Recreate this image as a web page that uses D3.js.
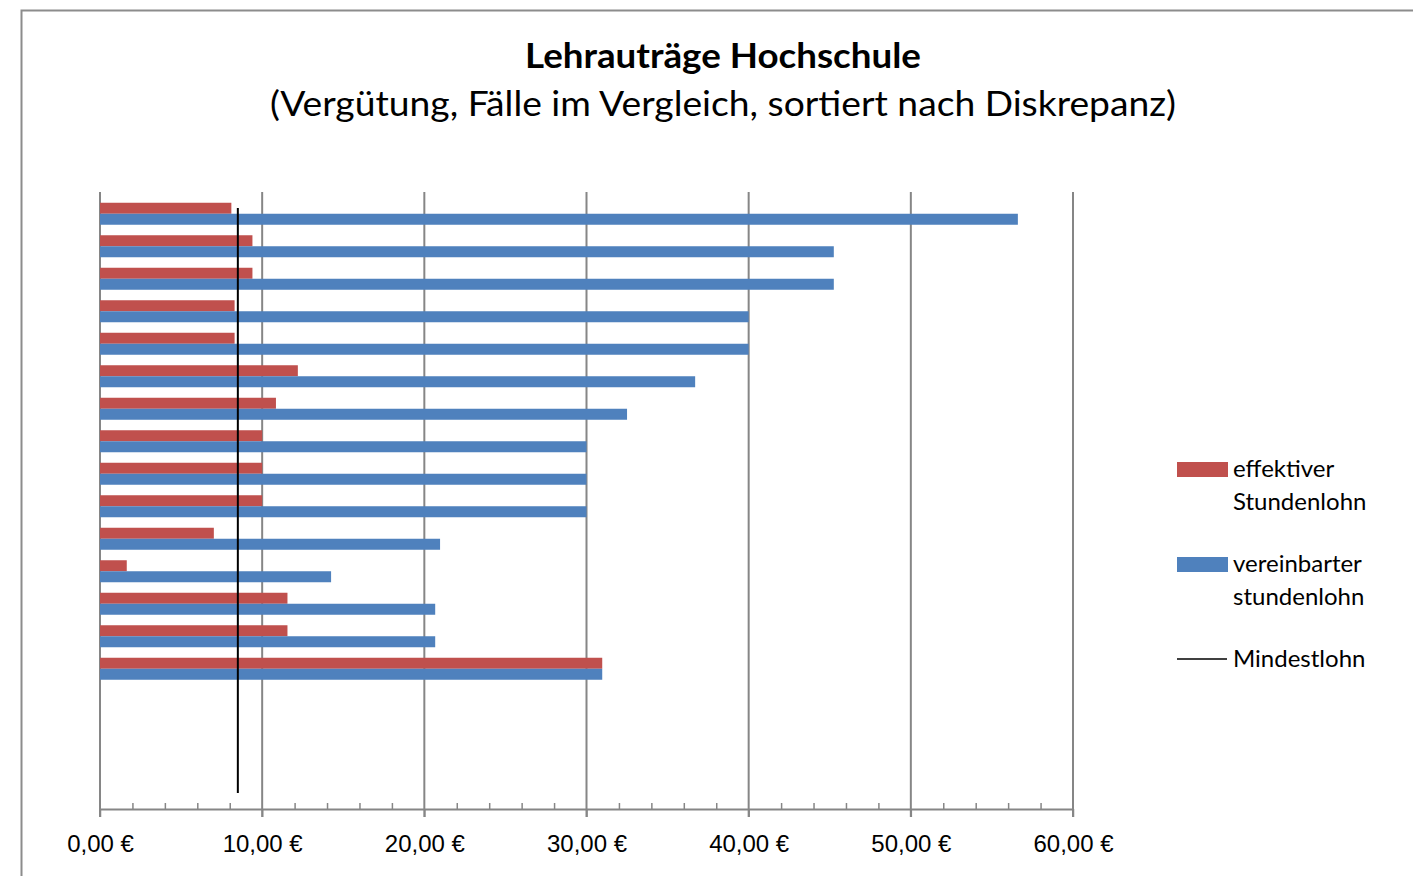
<!DOCTYPE html>
<html>
<head>
<meta charset="utf-8">
<script src="https://cdn.jsdelivr.net/npm/d3@7"></script>
<style>
	body { margin: 0; background: #fff; }
	svg { display: block; font-family: Lato, 'Open Sans', sans-serif; }
</style>
</head>
<body>
<div class="canvas"></div>
<script>
// Daten
const faelle = ['Fall 1', 'Fall 2', 'Fall 3', 'Fall 4', 'Fall 5', 'Fall 6', 'Fall 7', 'Fall 8', 'Fall 9', 'Fall 10',
	'Fall 11', 'Fall 12', 'Fall 13', 'Fall 14', 'Fall 15', 'Fall 16', 'Fall 17', 'Fall 18', 'Fall 19'];
const effektiverLohn = [8.10, 9.40, 9.40, 8.30, 8.30, 12.20, 10.85, 10.00, 10.00, 10.00, 7.02, 1.65, 11.56, 11.56, 30.97];
const vereinbarterLohn = [56.60, 45.25, 45.25, 40.00, 40.00, 36.70, 32.50, 30.00, 30.00, 30.00, 20.97, 14.25, 20.67, 20.67, 30.97];
const mindestlohn = 8.50;
const mindestlohnY = [0.026, 0.974];
const xTicks = [0, 10, 20, 30, 40, 50, 60];
const serien = ['effektiver Stundenlohn', 'vereinbarter stundenlohn'];
const legendeTexte = [['effektiver', 'Stundenlohn'], ['vereinbarter', 'stundenlohn'], ['Mindestlohn']];

const farben = { rot: '#C0504D', blau: '#4F81BD', grau: '#868686' };

const svg = d3
	.select('.canvas')
	.append('svg')
	.attr('width', 1413)
	.attr('height', 876);

// Rahmen des Diagramms
svg.append('rect')
	.attr('x', 21.5)
	.attr('y', 10.5)
	.attr('width', 1410)
	.attr('height', 880)
	.attr('fill', 'none')
	.attr('stroke', '#8c8c8c')
	.attr('stroke-width', 2);

// Titel
svg.append('text')
	.attr('x', 723)
	.attr('y', 68)
	.attr('text-anchor', 'middle')
	.attr('font-size', 34)
	.attr('font-weight', 'bold')
	.attr('textLength', 396)
	.attr('lengthAdjust', 'spacingAndGlyphs')
	.text('Lehrauträge Hochschule');

svg.append('text')
	.attr('x', 723)
	.attr('y', 116)
	.attr('text-anchor', 'middle')
	.attr('font-size', 34)
	.attr('textLength', 906)
	.attr('lengthAdjust', 'spacingAndGlyphs')
	.text('(Vergütung, Fälle im Vergleich, sortiert nach Diskrepanz)');

// Skalen
const plotTop = 192;
const plotBottom = 809;

const x = d3.scaleLinear().domain([0, 60]).range([100, 1073]);

const y = d3
	.scaleBand()
	.domain(faelle)
	.range([197.5, 815])
	.paddingInner(0.323)
	.paddingOuter(0.1615);

const ySub = d3.scaleBand().domain(serien).range([0, y.bandwidth()]);

const yLinie = d3.scaleLinear().domain([0, 1]).range([plotBottom, plotTop]);

// Gitterlinien
svg.append('g')
	.selectAll('line')
	.data(xTicks)
	.enter()
	.append('line')
	.attr('x1', d => x(d))
	.attr('x2', d => x(d))
	.attr('y1', plotTop)
	.attr('y2', plotBottom + 8)
	.attr('stroke', farben.grau)
	.attr('stroke-width', 2);

// Balken
const daten = effektiverLohn.map((d, i) => ({
	fall: faelle[i],
	effektiv: d,
	vereinbart: vereinbarterLohn[i]
}));

const gruppen = svg.append('g')
	.selectAll('g')
	.data(daten)
	.enter()
	.append('g')
	.attr('transform', d => `translate(0, ${y(d.fall)})`);

gruppen.append('rect')
	.attr('x', x(0))
	.attr('y', ySub(serien[0]))
	.attr('width', d => x(d.effektiv) - x(0))
	.attr('height', ySub.bandwidth())
	.attr('fill', farben.rot);

gruppen.append('rect')
	.attr('x', x(0))
	.attr('y', ySub(serien[1]))
	.attr('width', d => x(d.vereinbart) - x(0))
	.attr('height', ySub.bandwidth())
	.attr('fill', farben.blau);

// x-Achse
const xAxis = d3
	.axisBottom(x)
	.tickValues(d3.range(0, 61, 2))
	.tickSize(0)
	.tickFormat('');

const xAxisGroup = svg.append('g')
	.attr('transform', `translate(0, ${plotBottom})`)
	.call(xAxis);

xAxisGroup.select('.domain')
	.attr('stroke', farben.grau)
	.attr('stroke-width', 2);

xAxisGroup.selectAll('.tick line')
	.attr('y2', d => (d % 10 === 0 ? 8 : -6))
	.attr('stroke', farben.grau)
	.attr('stroke-width', 1.5);

xAxisGroup.selectAll('.tick')
	.filter(d => d % 10 === 0)
	.append('text')
	.attr('y', 43)
	.attr('fill', '#000')
	.attr('font-size', 24)
	.attr('text-anchor', 'middle')
	.text(d => d3.format(',.2f')(d).replace('.', ',') + ' €');

// Mindestlohn
svg.append('line')
	.attr('x1', x(mindestlohn))
	.attr('x2', x(mindestlohn))
	.attr('y1', yLinie(mindestlohnY[1]))
	.attr('y2', yLinie(mindestlohnY[0]))
	.attr('stroke', '#000')
	.attr('stroke-width', 2);

// Legende
const legende = svg.append('g').attr('transform', 'translate(1177, 0)');

legende.append('rect')
	.attr('x', 0).attr('y', 462)
	.attr('width', 51).attr('height', 15)
	.attr('fill', farben.rot);

legende.append('rect')
	.attr('x', 0).attr('y', 557)
	.attr('width', 51).attr('height', 15)
	.attr('fill', farben.blau);

legende.append('line')
	.attr('x1', 0).attr('x2', 50)
	.attr('y1', 659).attr('y2', 659)
	.attr('stroke', '#000')
	.attr('stroke-width', 1.5);

const zeilenY = [[477, 510], [572, 605], [667]];

legendeTexte.forEach((zeilen, i) => {
	zeilen.forEach((t, j) => {
		legende.append('text')
			.attr('x', 56)
			.attr('y', zeilenY[i][j])
			.attr('font-size', 24)
			.attr('fill', '#000')
			.text(t);
	});
});
</script>
</body>
</html>
